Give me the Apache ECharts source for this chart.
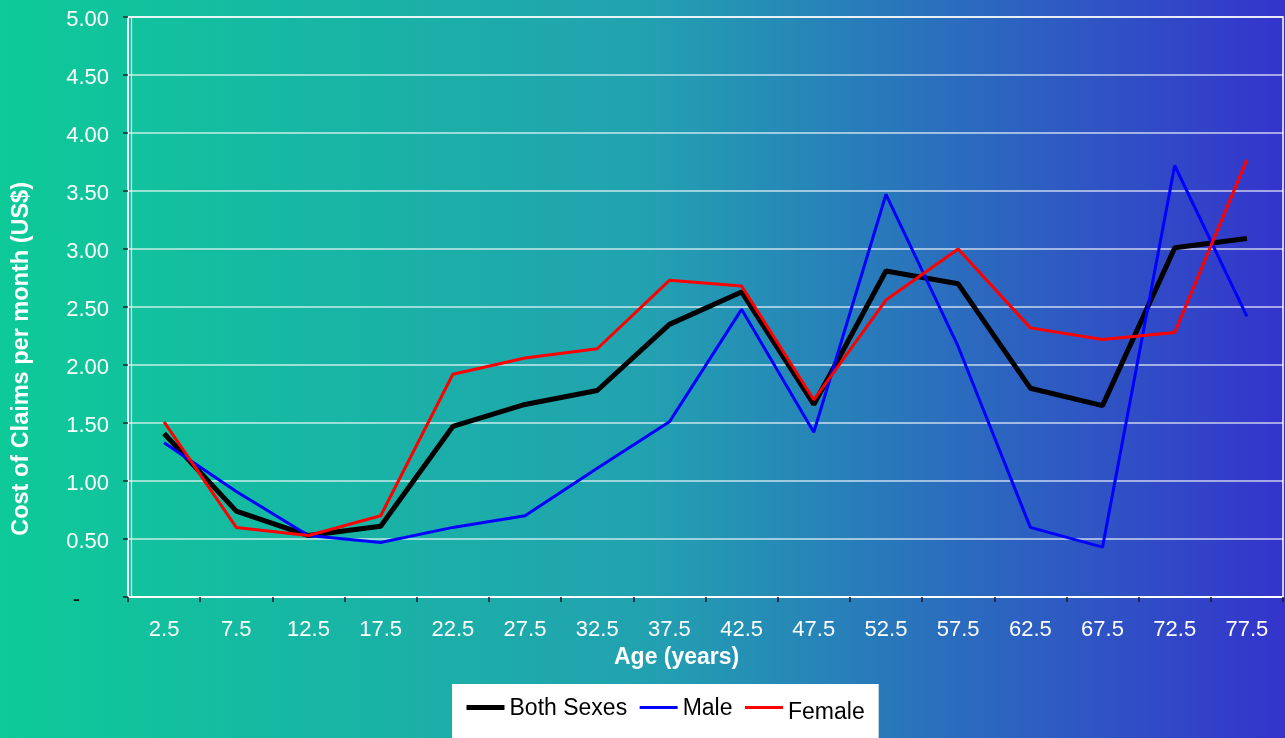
<!DOCTYPE html>
<html>
<head>
<meta charset="utf-8">
<script src="https://cdn.jsdelivr.net/npm/echarts@6/dist/echarts.min.js"></script>
<style>
  html, body { margin: 0; padding: 0; }
  #chart { width: 1285px; height: 738px; }
</style>
</head>
<body>
<div id="chart"></div>
<script>
// Age band midpoints (years)
const ages = ['2.5', '7.5', '12.5', '17.5', '22.5', '27.5', '32.5', '37.5',
              '42.5', '47.5', '52.5', '57.5', '62.5', '67.5', '72.5', '77.5'];

// Cost of claims per month (US$)
const bothSexes = [1.41, 0.74, 0.53, 0.61, 1.47, 1.66, 1.78, 2.35,
                   2.63, 1.66, 2.81, 2.70, 1.80, 1.65, 3.01, 3.09];
const male      = [1.33, 0.91, 0.53, 0.47, 0.60, 0.70, 1.11, 1.51,
                   2.48, 1.42, 3.47, 2.16, 0.60, 0.43, 3.72, 2.42];
const female    = [1.51, 0.60, 0.53, 0.70, 1.92, 2.06, 2.14, 2.73,
                   2.68, 1.70, 2.56, 3.00, 2.32, 2.22, 2.28, 3.77];

const FONT = 'Liberation Sans, Arial, sans-serif';

const chart = echarts.init(document.getElementById('chart'));

chart.setOption({
  animation: false,
  backgroundColor: {
    type: 'linear', x: 0, y: 0, x2: 1, y2: 0,
    colorStops: [
      { offset: 0, color: '#0dca98' },
      { offset: 0.5, color: '#22a2b0' },
      { offset: 1, color: '#3434cc' }
    ]
  },
  textStyle: { fontFamily: FONT },
  grid: {
    left: 128, right: 2, top: 17, bottom: 141,
    show: true, borderColor: '#ffffff', borderWidth: 1.5,
    backgroundColor: 'transparent'
  },
  xAxis: {
    type: 'category',
    data: ages,
    boundaryGap: true,
    axisLine: { show: true, lineStyle: { color: '#ffffff', width: 2 } },
    axisTick: { show: true, length: 5, interval: 0, lineStyle: { color: '#1a1a2a', width: 1.5 } },
    axisLabel: { color: '#ffffff', fontSize: 22, margin: 22, fontFamily: FONT, interval: 0 },
    splitLine: { show: false }
  },
  yAxis: [
    {
      type: 'value',
      min: 0, max: 5, interval: 0.5,
      axisLine: { show: true, lineStyle: { color: '#ffffff', width: 1.5 } },
      axisTick: { show: true, length: 5, lineStyle: { color: '#1a2a2a', width: 1.5 } },
      axisLabel: {
        color: '#ffffff', fontSize: 22, margin: 19, fontFamily: FONT,
        padding: [6, 0, 0, 0],
        formatter: v => v === 0 ? '{d|-}' : v.toFixed(2),
        rich: { d: { color: '#111111', fontSize: 22, fontFamily: FONT, padding: [0, 29, 0, 0] } }
      },
      splitLine: { show: true, lineStyle: { color: 'rgba(255,255,255,0.75)', width: 1.5 } }
    },
    {
      // inner frame line just inside the value axis
      type: 'value',
      min: 0, max: 5, interval: 0.5,
      position: 'left',
      offset: -3,
      axisLine: { show: true, lineStyle: { color: 'rgba(255,255,255,0.85)', width: 1.2 } },
      axisTick: { show: false },
      axisLabel: { show: false },
      splitLine: { show: false }
    }
  ],
  legend: {
    left: 452, top: 684,
    backgroundColor: '#ffffff',
    padding: [13, 14, 40, 12],
    itemWidth: 38, itemHeight: 14, itemGap: 11,
    itemStyle: { opacity: 0 },
    lineStyle: { width: 'inherit' },
    formatter: name => name === 'Female' ? '{f|' + name + '}' : '{n|' + name + '}',
    textStyle: {
      color: '#000000', fontSize: 23, fontFamily: FONT,
      rich: {
        n: { color: '#000000', fontSize: 23, fontFamily: FONT, padding: [2, 0, 0, 0] },
        f: { color: '#000000', fontSize: 23, fontFamily: FONT, padding: [10, 0, 0, 0] }
      }
    },
    data: ['Both Sexes', 'Male', 'Female']
  },
  graphic: [
    {
      type: 'text',
      left: 10, top: 182,
      rotation: Math.PI / 2,
      style: {
        text: 'Cost of Claims per month (US$)',
        fill: '#ffffff', font: 'bold 23.5px ' + FONT
      }
    },
    {
      type: 'text',
      left: 614, top: 646,
      style: {
        text: 'Age (years)',
        fill: '#ffffff', font: 'bold 23px ' + FONT
      }
    }
  ],
  series: [
    {
      name: 'Both Sexes', type: 'line', data: bothSexes,
      symbol: 'none', lineStyle: { color: '#000000', width: 5 },
      itemStyle: { color: '#000000' }
    },
    {
      name: 'Male', type: 'line', data: male,
      symbol: 'none', lineStyle: { color: '#0000ff', width: 3 },
      itemStyle: { color: '#0000ff' }
    },
    {
      name: 'Female', type: 'line', data: female,
      symbol: 'none', lineStyle: { color: '#ff0000', width: 3 },
      itemStyle: { color: '#ff0000' }
    }
  ]
});
</script>
</body>
</html>
